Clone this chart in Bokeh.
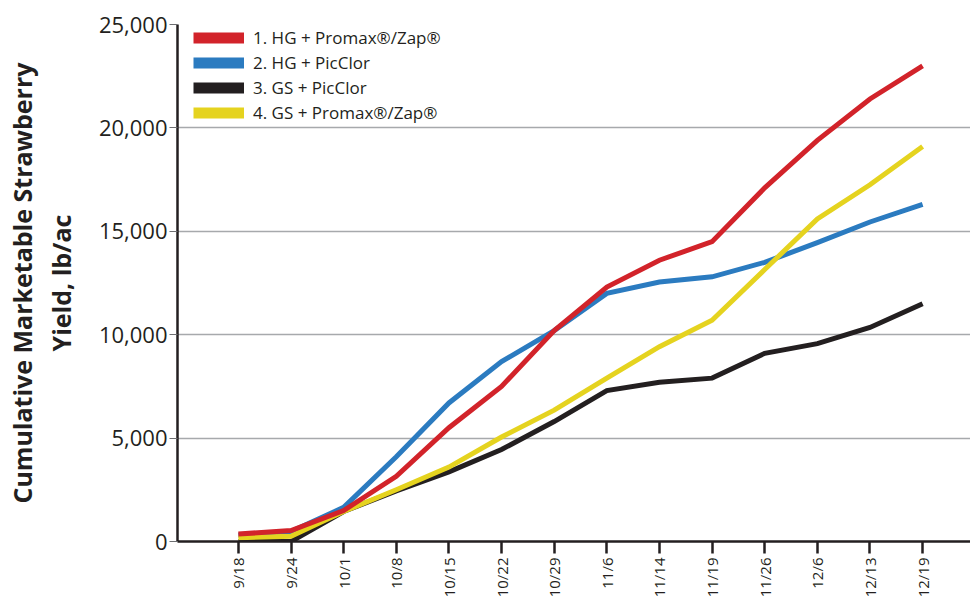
import math
from bokeh.plotting import figure
from bokeh.models import (FixedTicker, NumeralTickFormatter, Legend, LegendItem, Range1d, Title)
from bokeh.embed import file_html
from bokeh.resources import INLINE

dates = ["9/18", "9/24", "10/1", "10/8", "10/15", "10/22", "10/29",
         "11/6", "11/14", "11/19", "11/26", "12/6", "12/13", "12/19"]
hg_promax = [360, 530, 1500, 3150, 5500, 7500, 10200, 12300, 13600, 14500, 17100, 19400, 21400, 23000]
hg_picclor = [300, 480, 1650, 4100, 6700, 8700, 10200, 12000, 12550, 12800, 13500, 14450, 15450, 16300]
gs_picclor = [0, 0, 1450, 2450, 3370, 4450, 5800, 7300, 7700, 7900, 9100, 9570, 10350, 11500]
gs_promax = [180, 250, 1450, 2500, 3600, 5050, 6350, 7900, 9420, 10700, 13150, 15600, 17250, 19100]

series_names = ["1. HG + Promax®/Zap®", "2. HG + PicClor", "3. GS + PicClor", "4. GS + Promax®/Zap®"]
series_colors = ["#d2232a", "#2b7bc0", "#231f20", "#e5d31f"]
y_ticks = [0, 5000, 10000, 15000, 20000, 25000]
y_title_lines = ["Cumulative Marketable Strawberry", "Yield, lb/ac"]

xs = list(range(len(dates)))
TEXT = "#231f20"
FONT = "Open Sans"

p = figure(width=970, height=600, output_backend="svg", toolbar_location=None,
           x_range=Range1d(-1.157, 13.91), y_range=Range1d(0, 25000),
           min_border_left=176, min_border_top=24, min_border_right=0, min_border_bottom=0)
p.outline_line_color = None
p.background_fill_color = "white"

# grid
p.xgrid.grid_line_color = None
p.ygrid.grid_line_color = "#a7a9ac"
p.ygrid.grid_line_width = 1.5
p.ygrid.ticker = FixedTicker(ticks=y_ticks)

# y axis
p.yaxis.ticker = FixedTicker(ticks=y_ticks)
p.yaxis.formatter = NumeralTickFormatter(format="0,0")
p.yaxis.axis_line_color = TEXT
p.yaxis.axis_line_width = 2.5
p.yaxis.major_tick_line_color = "#6d6e71"
p.yaxis.major_tick_line_width = 1.2
p.yaxis.major_tick_out = 8
p.yaxis.major_tick_in = 0
p.yaxis.minor_tick_line_color = None
p.yaxis.major_label_text_font = FONT
p.yaxis.major_label_text_font_size = "22px"
p.yaxis.major_label_text_color = TEXT
p.yaxis.major_label_standoff = 2
# second title line as the axis label (centred)
p.yaxis.axis_label = y_title_lines[1]
p.yaxis.axis_label_text_font = FONT
p.yaxis.axis_label_text_font_size = "25px"
p.yaxis.axis_label_text_font_style = "bold"
p.yaxis.axis_label_text_color = TEXT
p.yaxis.axis_label_standoff = 18

# first title line as a left title
t1 = Title(text=y_title_lines[0], align="center", text_font=FONT, text_font_size="25px",
           text_font_style="bold", text_color=TEXT, standoff=4)
p.add_layout(t1, "left")

# x axis
p.xaxis.ticker = FixedTicker(ticks=xs)
p.xaxis.major_label_overrides = {i: d for i, d in enumerate(dates)}
p.xaxis.major_label_orientation = math.pi / 2
p.xaxis.axis_line_color = TEXT
p.xaxis.axis_line_width = 2.5
p.xaxis.major_tick_line_color = TEXT
p.xaxis.major_tick_line_width = 2.5
p.xaxis.major_tick_out = 12
p.xaxis.major_tick_in = 0
p.xaxis.minor_tick_line_color = None
p.xaxis.major_label_text_font = FONT
p.xaxis.major_label_text_font_size = "15px"
p.xaxis.major_label_text_color = TEXT
p.xaxis.major_label_standoff = 4

# lines (draw order: blue, black, yellow, red)
data = [hg_promax, hg_picclor, gs_picclor, gs_promax]
order = [1, 2, 3, 0]
for i in order:
    p.line(xs, data[i], line_color=series_colors[i], line_width=5, line_join="miter")

# hidden proxy renderers giving thicker legend swatches
items = []
for i in range(4):
    r = p.line(xs, data[i], line_color=series_colors[i], line_width=11, visible=False)
    items.append(LegendItem(label=series_names[i], renderers=[r]))

legend = Legend(items=items, location=(16, 416), orientation="vertical",
                glyph_width=51, glyph_height=25, label_height=25, spacing=0,
                padding=0, margin=0, label_standoff=9,
                label_text_font=FONT, label_text_font_size="17px", label_text_color=TEXT,
                background_fill_alpha=0, border_line_alpha=0)
p.add_layout(legend, "center")

open("out.html", "w").write(file_html(p, INLINE))
